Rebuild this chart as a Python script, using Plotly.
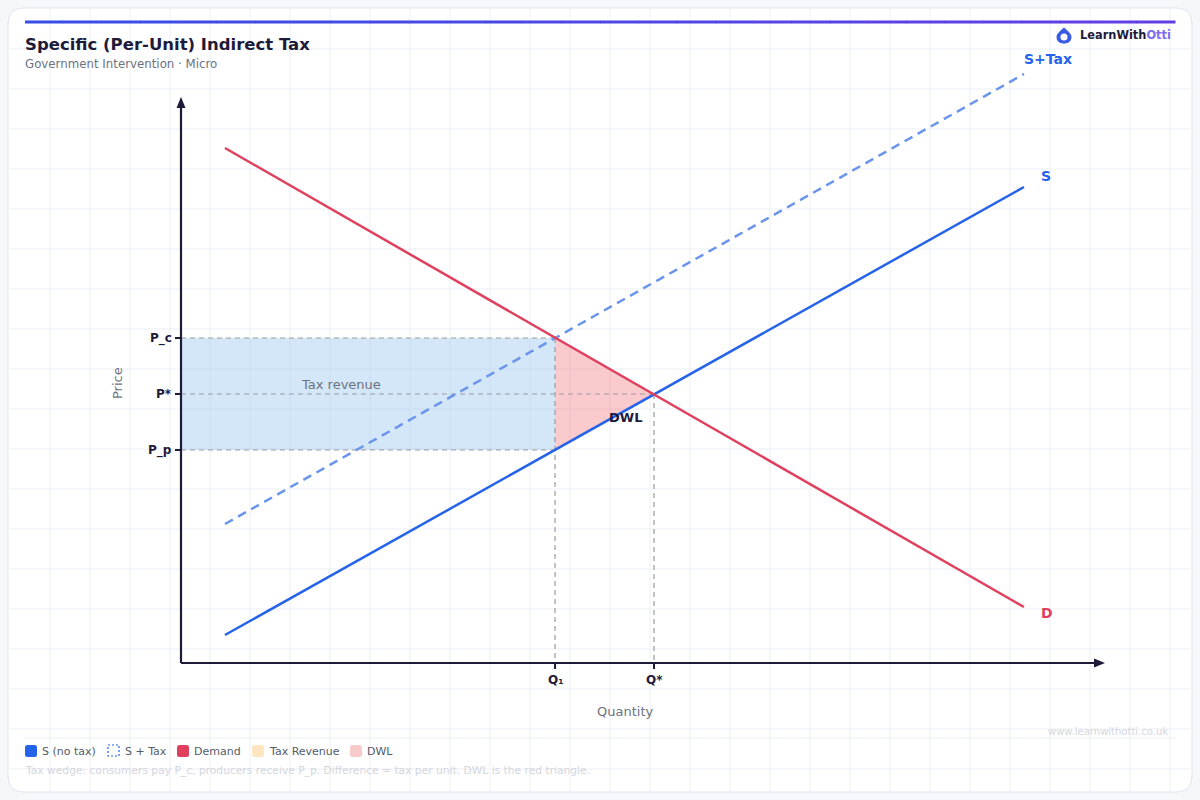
import plotly.graph_objects as go

W, H = 1200, 800

# ---------------- data (quantity 0-100, price 0-100) ----------------
supply_q = [4.76, 91.23]
supply_p = [4.95, 84.10]
supply_tax_p = [24.56, 104.06]
demand_q = [4.76, 91.23]
demand_p = [90.99, 9.89]
Q_eq, P_eq = 51.19, 47.53
Q_tax, P_c, P_p = 40.48, 57.42, 37.63
price_levels = [P_c, P_eq, P_p]
price_tick_labels = ["P_c", "P*", "P_p"]
qty_levels = [Q_tax, Q_eq]
qty_tick_labels = ["Q₁", "Q*"]
line_labels = ["S+Tax", "S", "D"]
legend_labels = ["S (no tax)", "S + Tax", "Demand", "Tax Revenue", "DWL"]
axis_max = 100

# ---------------- styling ----------------
FONT = "DejaVu Sans"
DARK = "#1e1b3a"
BLUE = "#2563eb"
BLUE_DASH = "#6b95ec"
RED = "#e0405e"
GRAY = "#6b7280"

# pixel mapping of the axes (origin at 181,663)
X0PX, Y0PX, XS, YS = 181, 663, 9.24, 5.66
xr = [-X0PX / XS, (W - X0PX) / XS]
yr = [(Y0PX - H) / YS, Y0PX / YS]


def px(x):
    return x / W


def py(y):
    return 1 - y / H


shapes = []
annotations = []


def rrect(x0, y0, x1, y1, r):
    rx, ry = r / W, r / H
    X0, X1 = px(x0), px(x1)
    Y0, Y1 = py(y0), py(y1)
    return (f"M{X0+rx},{Y0} L{X1-rx},{Y0} Q{X1},{Y0} {X1},{Y0-ry} "
            f"L{X1},{Y1+ry} Q{X1},{Y1} {X1-rx},{Y1} L{X0+rx},{Y1} "
            f"Q{X0},{Y1} {X0},{Y1+ry} L{X0},{Y0-ry} Q{X0},{Y0} {X0+rx},{Y0} Z")


def label(xp, yp, text, size, color, anchor="left", bold=False, angle=0):
    shift = {"left": -2, "right": 2, "center": 0}[anchor]
    annotations.append(dict(x=px(xp), y=py(yp), xref="paper", yref="paper",
                            text=f"<b>{text}</b>" if bold else text, showarrow=False,
                            xanchor=anchor, yanchor="middle", xshift=shift, textangle=angle,
                            font=dict(family=FONT, size=size, color=color)))


# page card
shapes.append(dict(type="path", xref="paper", yref="paper", path=rrect(8, 8, 1192, 792, 16),
                   fillcolor="white", line=dict(color="#e2e5ee", width=1), layer="below"))

# background grid
GRID = "#edeff6"
for gx in range(50, 1190, 40):
    shapes.append(dict(type="line", xref="paper", yref="paper", x0=px(gx), x1=px(gx),
                       y0=py(9), y1=py(791), line=dict(color=GRID, width=1), layer="below"))
for gy in range(49, 790, 40):
    shapes.append(dict(type="line", xref="paper", yref="paper", x0=px(9), x1=px(1191),
                       y0=py(gy), y1=py(gy), line=dict(color=GRID, width=1), layer="below"))

# accent bar with gradient
c0, c1 = (55, 78, 230), (98, 62, 226)
N = 30
for i in range(N):
    t = i / (N - 1)
    col = "rgb(%d,%d,%d)" % tuple(round(a + (b - a) * t) for a, b in zip(c0, c1))
    xa = 25 + (1175 - 25) * i / N
    xb = 25 + (1175 - 25) * (i + 1) / N
    shapes.append(dict(type="line", xref="paper", yref="paper", x0=px(xa), x1=px(xb + 0.5),
                       y0=py(22), y1=py(22), line=dict(color=col, width=3), layer="below"))

# separator above legend
shapes.append(dict(type="line", xref="paper", yref="paper", x0=px(25), x1=px(1175),
                   y0=py(738), y1=py(738), line=dict(color="#eceef4", width=1), layer="below"))

# ---------------- traces ----------------
fig = go.Figure()

fig.add_trace(go.Scatter(x=[0, Q_tax, Q_tax, 0, 0], y=[P_p, P_p, P_c, P_c, P_p],
                         fill="toself", fillcolor="rgba(120,180,235,0.32)",
                         line=dict(width=0), mode="lines", hoverinfo="skip"))
fig.add_trace(go.Scatter(x=[Q_tax, Q_tax, Q_eq, Q_tax], y=[P_p, P_c, P_eq, P_p],
                         fill="toself", fillcolor="rgba(240,80,90,0.30)",
                         line=dict(width=0), mode="lines", hoverinfo="skip"))
gx, gy = [], []
for p, q in [(P_c, Q_tax), (P_eq, Q_eq), (P_p, Q_tax)]:
    gx += [0, q, None]
    gy += [p, p, None]
gx += [Q_tax, Q_tax, None, Q_eq, Q_eq]
gy += [P_c, 0, None, P_eq, 0]
fig.add_trace(go.Scatter(x=gx, y=gy, mode="lines",
                         line=dict(color="#9b9b9f", width=1.2, dash="5px,4px"), hoverinfo="skip"))

# axes
fig.add_trace(go.Scatter(x=[0, 0, None, 0, axis_max - 1.1], y=[axis_max - 1.8, 0, None, 0, 0],
                         mode="lines", line=dict(color=DARK, width=2.2), hoverinfo="skip"))
shapes.append(dict(type="path", xref="x", yref="y", xsizemode="pixel", ysizemode="pixel",
                   xanchor=0, yanchor=axis_max, path="M-4.5,-11 L0,0 L4.5,-11 Z",
                   fillcolor=DARK, line=dict(width=0), layer="above"))
shapes.append(dict(type="path", xref="x", yref="y", xsizemode="pixel", ysizemode="pixel",
                   xanchor=axis_max, yanchor=0, path="M-11,-4.5 L0,0 L-11,4.5 Z",
                   fillcolor=DARK, line=dict(width=0), layer="above"))

fig.add_trace(go.Scatter(x=supply_q, y=supply_tax_p, mode="lines",
                         line=dict(color=BLUE_DASH, width=2.5, dash="9px,6px"), hoverinfo="skip"))
fig.add_trace(go.Scatter(x=supply_q, y=supply_p, mode="lines",
                         line=dict(color=BLUE, width=2.5), hoverinfo="skip"))
fig.add_trace(go.Scatter(x=demand_q, y=demand_p, mode="lines",
                         line=dict(color=RED, width=2.5), hoverinfo="skip"))

# ticks
for p, lab in zip(price_levels, price_tick_labels):
    shapes.append(dict(type="line", xref="x", yref="y", xsizemode="pixel", xanchor=0,
                       x0=-6, x1=0, y0=p, y1=p, line=dict(color=DARK, width=2)))
    annotations.append(dict(x=0, y=p, xref="x", yref="y", text=f"<b>{lab}</b>", showarrow=False,
                            xanchor="right", yanchor="middle", xshift=-7,
                            font=dict(family=FONT, size=12, color=DARK)))
for q, lab in zip(qty_levels, qty_tick_labels):
    shapes.append(dict(type="line", xref="x", yref="y", ysizemode="pixel", yanchor=0,
                       x0=q, x1=q, y0=0, y1=-6, line=dict(color=DARK, width=2)))
    annotations.append(dict(x=q, y=0, xref="x", yref="y", text=f"<b>{lab}</b>", showarrow=False,
                            xanchor="center", yanchor="top", yshift=-8,
                            font=dict(family=FONT, size=12, color=DARK)))

# line labels
annotations.append(dict(x=supply_q[1], y=supply_tax_p[1], xref="x", yref="y",
                        text=f"<b>{line_labels[0]}</b>", showarrow=False, xanchor="left",
                        yanchor="middle", xshift=-2, yshift=15,
                        font=dict(family=FONT, size=14, color=BLUE)))
annotations.append(dict(x=supply_q[1], y=supply_p[1], xref="x", yref="y",
                        text=f"<b>{line_labels[1]}</b>", showarrow=False, xanchor="left",
                        yanchor="middle", xshift=15, yshift=11,
                        font=dict(family=FONT, size=14, color=BLUE)))
annotations.append(dict(x=demand_q[1], y=demand_p[1], xref="x", yref="y",
                        text=f"<b>{line_labels[2]}</b>", showarrow=False, xanchor="left",
                        yanchor="middle", xshift=15, yshift=-6,
                        font=dict(family=FONT, size=14, color=RED)))

# area labels
label(341, 384, "Tax revenue", 13, GRAY, "center")
label(625, 417, "DWL", 13, DARK, "center", bold=True)

# axis titles
label(117, 383, "Price", 13, GRAY, "center", angle=-90)
label(625, 711, "Quantity", 13, GRAY, "center")

# title / subtitle
label(25, 44, "Specific (Per-Unit) Indirect Tax", 16.5, DARK, bold=True)
label(25, 64, "Government Intervention · Micro", 11.8, GRAY)

# logo
shapes.append(dict(type="path", xref="paper", yref="paper",
                   path=(f"M{px(1064)},{py(27.5)} C{px(1068)},{py(31)} {px(1071.5)},{py(34)} {px(1071.5)},{py(37)} "
                         f"C{px(1071.5)},{py(41.5)} {px(1068)},{py(43.5)} {px(1064)},{py(43.5)} "
                         f"C{px(1060)},{py(43.5)} {px(1056.5)},{py(41.5)} {px(1056.5)},{py(37)} "
                         f"C{px(1056.5)},{py(34)} {px(1060)},{py(31)} {px(1064)},{py(27.5)} Z"),
                   fillcolor="#3b5be6", line=dict(width=0)))
shapes.append(dict(type="circle", xref="paper", yref="paper", x0=px(1060.5), x1=px(1067.5),
                   y0=py(33.5), y1=py(40.5), fillcolor="white", line=dict(width=0)))
annotations.append(dict(x=px(1080), y=py(35), xref="paper", yref="paper", xshift=-2,
                        text="<b>LearnWith<span style='color:#7c6cf6'>Otti</span></b>",
                        showarrow=False, xanchor="left", yanchor="middle",
                        font=dict(family=FONT, size=11.4, color=DARK)))

# watermark
label(1168, 731, "www.learnwithotti.co.uk", 10, "#d4d7de", "right")

# legend
leg_x = [25, 108, 177, 252, 350]
leg_fill = [BLUE, "white", RED, "#fde6c0", "#f8caca"]
for i, (lx, lab, fc) in enumerate(zip(leg_x, legend_labels, leg_fill)):
    if i == 1:
        shapes.append(dict(type="rect", xref="paper", yref="paper", x0=px(lx), x1=px(lx + 11),
                           y0=py(745), y1=py(756), fillcolor="white",
                           line=dict(color=BLUE, width=1.2, dash="2px,2px")))
    else:
        shapes.append(dict(type="path", xref="paper", yref="paper",
                           path=rrect(lx, 745, lx + 12, 757, 2.5), fillcolor=fc,
                           line=dict(width=0)))
    label(lx + 17, 751, lab, 11, "#555b66")

# footnote
label(25, 770, "Tax wedge: consumers pay P_c, producers receive P_p. Difference = tax per unit. DWL is the red triangle.",
      10.7, "#d3d6dd")

fig.update_layout(
    width=W, height=H, margin=dict(l=0, r=0, t=0, b=0),
    paper_bgcolor="#f5f7fb", plot_bgcolor="rgba(0,0,0,0)",
    showlegend=False,
    xaxis=dict(range=xr, visible=False, fixedrange=True),
    yaxis=dict(range=yr, visible=False, fixedrange=True),
    shapes=shapes, annotations=annotations,
)

fig.write_html("out.html")
